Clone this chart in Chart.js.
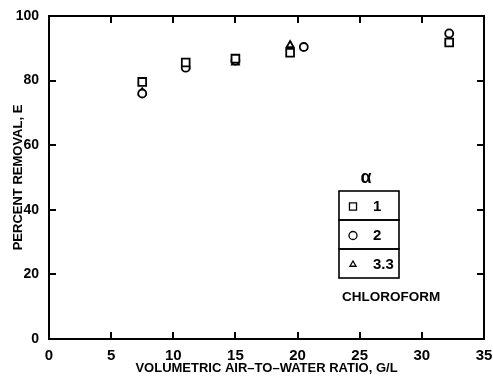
<!DOCTYPE html>
<html>
<head>
<meta charset="utf-8">
<script src="https://cdn.jsdelivr.net/npm/chart.js@4.4.1/dist/chart.umd.min.js"></script>
<style>
  html, body { margin: 0; padding: 0; background: #fff; }
  #wrap { width: 493px; height: 376px; position: relative; }
</style>
</head>
<body>
<div id="wrap"><canvas id="grafica"></canvas></div>
<script>
// datos
var xTicks = [0, 5, 10, 15, 20, 25, 30, 35];
var yTicks = [0, 20, 40, 60, 80, 100];

var alfa1X = [7.5, 11, 15, 19.4, 32.2];
var alfa1Y = [79.6, 85.6, 86.8, 88.6, 91.8];

var alfa2X = [7.5, 11, 15, 20.5, 32.2];
var alfa2Y = [76.0, 84.0, 86.2, 90.4, 94.6];

var alfa33X = [7.5, 11, 15, 19.4, 32.2];
var alfa33Y = [76.4, 84.6, 85.6, 91.0, 92.4];

var leyendaEtiquetas = ["1", "2", "3.3"];
var leyendaFormas = ["rect", "circle", "triangle"];

function puntos(xs, ys) {
    return xs.map(function(x, i) { return { x: x, y: ys[i] }; });
}

// caja con marcas hacia adentro y leyenda de alfa
var marcoPlugin = {
    id: 'marco',
    afterDraw: function(chart) {
        var ctx = chart.ctx;
        var a = chart.chartArea;
        var sx = chart.scales.x, sy = chart.scales.y;
        ctx.save();
        ctx.strokeStyle = '#000';
        ctx.lineWidth = 2;
        ctx.strokeRect(a.left, a.top, a.right - a.left, a.bottom - a.top);
        var L = 7;
        ctx.beginPath();
        xTicks.forEach(function(v) {
            var px = Math.round(sx.getPixelForValue(v));
            ctx.moveTo(px, a.bottom); ctx.lineTo(px, a.bottom - L);
            ctx.moveTo(px, a.top); ctx.lineTo(px, a.top + L);
        });
        yTicks.forEach(function(v) {
            var py = Math.round(sy.getPixelForValue(v));
            ctx.moveTo(a.left, py); ctx.lineTo(a.left + L, py);
            ctx.moveTo(a.right, py); ctx.lineTo(a.right - L, py);
        });
        ctx.lineWidth = 2;
        ctx.stroke();

        // leyenda
        var bx = 339, by = 191, bw = 60, rh = 29;
        ctx.lineWidth = 1.6;
        for (var i = 0; i < 3; i++) {
            ctx.strokeRect(bx, by + i * rh, bw, rh);
        }
        ctx.fillStyle = '#000';
        ctx.font = 'bold 18px "Liberation Sans", sans-serif';
        ctx.textAlign = 'center';
        ctx.textBaseline = 'middle';
        ctx.fillText('\u03B1', 366, 178);
        ctx.font = 'bold 15px "Liberation Sans", sans-serif';
        ctx.textAlign = 'left';
        leyendaEtiquetas.forEach(function(t, i) {
            var cy = by + i * rh + rh / 2 + 1;
            ctx.lineWidth = 1.3;
            ctx.fillStyle = '#fff';
            Chart.helpers.drawPoint(ctx, { pointStyle: leyendaFormas[i], radius: i === 0 ? 5 : (i === 1 ? 4 : 3.5), borderWidth: 1.3 }, 353, cy);
            ctx.fillStyle = '#000';
            ctx.fillText(t, 373, cy);
        });
        ctx.font = 'bold 13.5px "Liberation Sans", sans-serif';
        ctx.fillText('CHLOROFORM', 342, 297);
        ctx.restore();
    }
};

var marcador = { borderColor: '#000', backgroundColor: '#fff', borderWidth: 1.8, showLine: false };

new Chart(document.getElementById('grafica'), {
    type: 'scatter',
    data: {
        datasets: [
            Object.assign({ label: '1', data: puntos(alfa1X, alfa1Y), pointStyle: 'rect', pointRadius: 5.5 }, marcador),
            Object.assign({ label: '2', data: puntos(alfa2X, alfa2Y), pointStyle: 'circle', pointRadius: 4 }, marcador),
            Object.assign({ label: '3.3', data: puntos(alfa33X, alfa33Y), pointStyle: 'triangle', pointRadius: 4 }, marcador)
        ]
    },
    options: {
        responsive: true,
        maintainAspectRatio: false,
        animation: false,
        layout: { padding: { top: 16, right: 9, left: 0, bottom: 0 } },
        plugins: { legend: { display: false }, tooltip: { enabled: false } },
        scales: {
            x: {
                type: 'linear', min: 0, max: 35,
                afterBuildTicks: function(s) { s.ticks = xTicks.map(function(v) { return { value: v }; }); },
                afterFit: function(s) { s.height = 37; },
                grid: { display: false },
                border: { display: false },
                ticks: { color: '#000', padding: 0, maxRotation: 0, font: { family: 'Liberation Sans', size: 15, weight: 'bold' } },
                title: { display: true, text: 'VOLUMETRIC AIR\u2013TO\u2013WATER RATIO, G/L', color: '#000', padding: 0,
                         font: { family: 'Liberation Sans', size: 13, weight: 'bold' } }
            },
            y: {
                type: 'linear', min: 0, max: 100,
                afterBuildTicks: function(s) { s.ticks = yTicks.map(function(v) { return { value: v }; }); },
                afterFit: function(s) { s.width = 49; },
                grid: { display: false },
                border: { display: false },
                ticks: { color: '#000', padding: 2, font: { family: 'Liberation Sans', size: 14, weight: 'bold' } },
                title: { display: true, text: 'PERCENT REMOVAL, E', color: '#000', padding: { top: 11, bottom: 0 },
                         font: { family: 'Liberation Sans', size: 13, weight: 'bold' } }
            }
        }
    },
    plugins: [marcoPlugin]
});
</script>
</body>
</html>
